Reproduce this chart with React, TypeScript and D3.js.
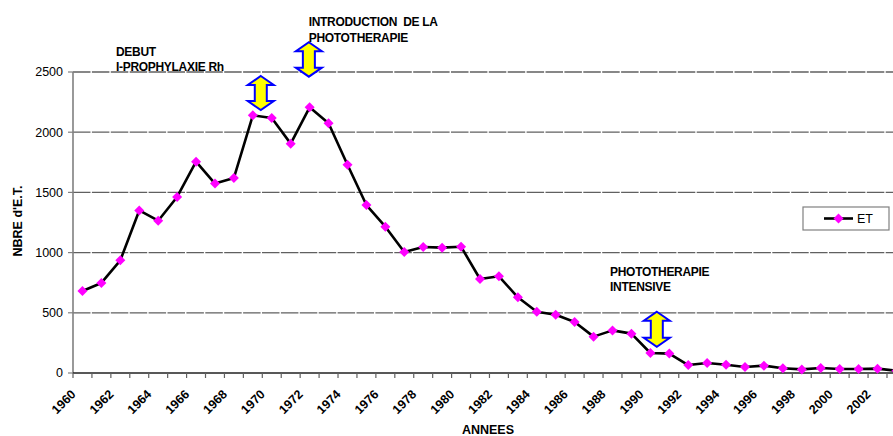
import React from "react";
import * as d3 from "d3";

const years = [
  1960, 1961, 1962, 1963, 1964, 1965, 1966, 1967, 1968, 1969,
  1970, 1971, 1972, 1973, 1974, 1975, 1976, 1977, 1978, 1979,
  1980, 1981, 1982, 1983, 1984, 1985, 1986, 1987, 1988, 1989,
  1990, 1991, 1992, 1993, 1994, 1995, 1996, 1997, 1998, 1999,
  2000, 2001, 2002, 2003,
];
const etValues = [
  681, 748, 936, 1350, 1265, 1462, 1755, 1573, 1620, 2140,
  2118, 1905, 2207, 2074, 1730, 1395, 1215, 1005, 1047, 1041,
  1049, 781, 803, 629, 509, 484, 424, 302, 354, 327,
  166, 161, 66, 83, 69, 50, 61, 39, 30, 42,
  33, 33, 36, 19,
];
const yTicks = [0, 500, 1000, 1500, 2000, 2500];
const gridValues = [500, 1000, 1500, 2000, 2500];
const xLabelYears = [1960, 1962, 1964, 1966, 1968, 1970, 1972, 1974, 1976, 1978, 1980, 1982, 1984, 1986, 1988, 1990, 1992, 1994, 1996, 1998, 2000, 2002];

// annotation arrows: [year position, top value, bottom value]
const arrowsData = [
  { year: 1969.42, top: 2467, bottom: 2184 },
  { year: 1971.96, top: 2747, bottom: 2461 },
  { year: 1990.34, top: 509, bottom: 218 },
];
const notes = [
  { year: 1961.77, value: 2633, lines: ["DEBUT", "I-PROPHYLAXIE Rh"] },
  { year: 1971.95, value: 2882, lines: ["INTRODUCTION  DE LA", "PHOTOTHERAPIE"] },
  { year: 1987.87, value: 806, lines: ["PHOTOTHERAPIE", "INTENSIVE"] },
];

const W = 893;
const H = 436;
const left = 73;
const bandW = 18.93;
const top = 72;
const bottom = 373;

export default function App() {
  const x = d3
    .scaleBand<number>()
    .domain(years)
    .range([left, left + years.length * bandW])
    .padding(0);
  const bw = x.bandwidth();
  const cx = (yr: number) => (x(yr) as number) + bw / 2;
  const fx = d3
    .scaleLinear()
    .domain([years[0], years[0] + 1])
    .range([left + bw / 2, left + bw * 1.5]);
  const y = d3.scaleLinear().domain([0, 2500]).range([bottom, top]);

  const line = d3
    .line<number>()
    .x((_, i) => cx(years[i]))
    .y((d) => y(d));

  const boundaries = years.map((yr) => x(yr) as number).concat([left + years.length * bandW]);

  const arrowPath = (c: number, t: number, b: number) => {
    const hh = 13;
    const hs = 6;
    const ah = 9;
    return `M${c},${t} L${c + hh},${t + ah} L${c + hs},${t + ah} L${c + hs},${b - ah} L${c + hh},${b - ah} L${c},${b} L${c - hh},${b - ah} L${c - hs},${b - ah} L${c - hs},${t + ah} L${c - hh},${t + ah} Z`;
  };

  const diamond = (px: number, py: number, r: number) =>
    `M${px},${py - r} L${px + r},${py} L${px},${py + r} L${px - r},${py} Z`;

  const font = "'Liberation Sans', Arial, sans-serif";

  return (
    <svg
      width={W}
      height={H}
      style={{ position: "absolute", left: 0, top: 0, background: "#fff" }}
      fontFamily={font}
    >
      <rect x={0} y={0} width={W} height={H} fill="#fff" />
      {/* gridlines */}
      {gridValues.map((v) => (
        <line
          key={v}
          x1={left}
          x2={W}
          y1={y(v)}
          y2={y(v)}
          stroke="#606060"
          strokeWidth={1.3}
          strokeDasharray="17.5,1.4"
        />
      ))}
      {/* y axis */}
      <line x1={left} x2={left} y1={top} y2={bottom} stroke="#808080" strokeWidth={1.6} />
      {yTicks.map((v) => (
        <g key={v}>
          <line x1={left - 5} x2={left} y1={y(v)} y2={y(v)} stroke="#808080" strokeWidth={1.2} />
          <text x={left - 10} y={y(v)} dy="0.35em" textAnchor="end" fontSize={12.5} fill="#000">
            {v}
          </text>
        </g>
      ))}
      {/* x axis */}
      <line x1={left} x2={W} y1={bottom} y2={bottom} stroke="#202020" strokeWidth={1.6} />
      {boundaries.map((bx, i) => (
        <line key={i} x1={bx} x2={bx} y1={bottom} y2={bottom + 5} stroke="#606060" strokeWidth={1.2} />
      ))}
      {xLabelYears.map((yr) => (
        <text
          key={yr}
          transform={`translate(${cx(yr) - 6},${bottom + 22}) rotate(-45)`}
          textAnchor="end"
          fontSize={12.5}
          fontWeight="bold"
          fill="#000"
        >
          {yr}
        </text>
      ))}
      {/* series */}
      <path d={line(etValues) || ""} fill="none" stroke="#000" strokeWidth={2.6} strokeLinejoin="round" />
      {etValues.map((v, i) => (
        <path key={i} d={diamond(cx(years[i]), y(v), 5)} fill="#FF00FF" />
      ))}
      {/* arrows */}
      {arrowsData.map((a, i) => (
        <path
          key={i}
          d={arrowPath(fx(a.year), y(a.top), y(a.bottom))}
          fill="#FFFF00"
          stroke="#0000FF"
          strokeWidth={2}
          strokeLinejoin="miter"
        />
      ))}
      {/* notes */}
      {notes.map((n, i) => (
        <text
          key={i}
          x={fx(n.year)}
          y={y(n.value)}
          fontSize={12}
          fontWeight="bold"
          fill="#000"
          letterSpacing={-0.3}
        >
          {n.lines.map((l, j) => (
            <tspan key={j} x={fx(n.year)} dy={j === 0 ? 0 : 15.5} style={{ whiteSpace: "pre" }}>
              {l}
            </tspan>
          ))}
        </text>
      ))}
      {/* axis titles */}
      <text
        transform={`translate(22,221) rotate(-90)`}
        textAnchor="middle"
        fontSize={12.5}
        fontWeight="bold"
        fill="#000"
      >
        NBRE d'E.T.
      </text>
      <text x={488} y={434} textAnchor="middle" fontSize={12.5} fontWeight="bold" fill="#000">
        ANNEES
      </text>
      {/* legend */}
      <rect x={803} y={207} width={86} height={23} fill="#fff" stroke="#808080" strokeWidth={1.2} />
      <line x1={824} x2={853} y1={218.5} y2={218.5} stroke="#000" strokeWidth={2.6} />
      <path d={diamond(838.5, 218.5, 5)} fill="#FF00FF" />
      <text x={857} y={218.5} dy="0.36em" fontSize={12.5} fill="#000">
        ET
      </text>
    </svg>
  );
}
